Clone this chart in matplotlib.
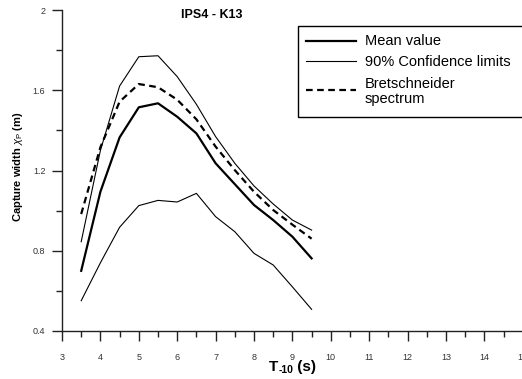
import matplotlib
matplotlib.use("Agg")
import matplotlib.pyplot as plt
from matplotlib.ticker import MultipleLocator
from matplotlib.lines import Line2D
from matplotlib.patches import Rectangle

plt.rcParams['font.family'] = ['Liberation Sans', 'DejaVu Sans']
plt.rcParams['mathtext.fontset'] = 'custom'
plt.rcParams['mathtext.rm'] = 'Liberation Sans'
plt.rcParams['mathtext.it'] = 'Liberation Sans:italic'
plt.rcParams['mathtext.bf'] = 'Liberation Sans:bold'

# Data
period = [3.5, 4.0, 4.5, 5.0, 5.5, 6.0, 6.5, 7.0, 7.5, 8.0, 8.5, 9.0, 9.5]
mean_value = [0.70, 1.094, 1.365, 1.515, 1.535, 1.468, 1.385, 1.236, 1.132, 1.028, 0.953, 0.870, 0.762]
upper_conf = [0.845, 1.30, 1.621, 1.767, 1.772, 1.668, 1.530, 1.369, 1.236, 1.123, 1.033, 0.953, 0.903]
lower_conf = [0.551, 0.740, 0.917, 1.025, 1.051, 1.043, 1.086, 0.970, 0.895, 0.787, 0.729, 0.620, 0.508]
bretschneider = [0.983, 1.316, 1.543, 1.631, 1.615, 1.553, 1.455, 1.319, 1.202, 1.094, 1.003, 0.930, 0.860]
legend_labels = ['Mean value', '90% Confidence limits', 'Bretschneider\nspectrum']
x_ticks = list(range(3, 16))
y_ticks = [0.4, 0.8, 1.2, 1.6, 2.0]
y_tick_labels = ['0.4', '0.8', '1.2', '1.6', '2']

W, H = 522, 379
fig = plt.figure(figsize=(W / 100, H / 100), dpi=100)
left_px, right_px, top_px, bot_px = 62, 522.8, 10, 331
ax = fig.add_axes([left_px / W, 1 - bot_px / H, (right_px - left_px) / W, (bot_px - top_px) / H])

mean_style = dict(color='black', lw=1.6)
conf_style = dict(color='black', lw=0.8)
bret_style = dict(color='black', lw=1.6, ls=(0, (3, 2)))

ax.plot(period, mean_value, **mean_style)
ax.plot(period, upper_conf, **conf_style)
ax.plot(period, lower_conf, **conf_style)
ax.plot(period, bretschneider, **bret_style)

ax.set_xlim(3, 15)
ax.set_ylim(0.4, 2.0)
ax.xaxis.set_minor_locator(MultipleLocator(0.5))
ax.yaxis.set_minor_locator(MultipleLocator(0.2))
ax.set_yticks(y_ticks)
ax.set_yticklabels(y_tick_labels)
ax.set_xticks(x_ticks)
ax.set_xticklabels([str(v) for v in x_ticks])

for s in ['top', 'right']:
    ax.spines[s].set_visible(False)
for s in ['left', 'bottom']:
    ax.spines[s].set_linewidth(1.0)
    ax.spines[s].set_color('#222222')

ax.tick_params(axis='both', which='major', length=7, width=1.0, color='#222222',
               labelsize=6.5, labelcolor='#333333')
ax.tick_params(axis='both', which='minor', length=4, width=1.0, color='#222222')
ax.tick_params(axis='x', which='major', pad=8.5)
ax.tick_params(axis='y', which='major', pad=5)

def fx(px):
    return px / W

def fy(py):
    return 1 - py / H

fig.text(fx(18), fy(167), r'Capture width $\chi_\mathrm{P}$ (m)', rotation=90,
         ha='center', va='center', fontsize=8, fontweight='bold')
fig.text(fx(212), fy(15), 'IPS4 - K13', ha='center', va='center',
         fontsize=9, fontweight='bold')

# x-label "T-10 (s)" with subscript, built from pieces
fig.canvas.draw()
r = fig.canvas.get_renderer()
t1 = fig.text(0, fy(367), 'T', ha='left', va='center', fontsize=11, fontweight='bold')
t2 = fig.text(0, fy(370), '-10', ha='left', va='center', fontsize=7.5, fontweight='bold')
t3 = fig.text(0, fy(367), ' (s)', ha='left', va='center', fontsize=11, fontweight='bold')
w1 = t1.get_window_extent(r).width
w2 = t2.get_window_extent(r).width
w3 = t3.get_window_extent(r).width
total = w1 + w2 + w3
x0 = 292.5 - total / 2
t1.set_x(fx(x0))
t2.set_x(fx(x0 + w1))
t3.set_x(fx(x0 + w1 + w2))

# legend box drawn at figure level
fig.patches.append(Rectangle((fx(298), fy(117)), fx(540) - fx(298), fy(26) - fy(117),
                             transform=fig.transFigure, fill=True, facecolor='white',
                             edgecolor='black', lw=1.0, zorder=5))
rows_line = [41, 61, 90]
styles = [mean_style, conf_style, bret_style]
for yl, st in zip(rows_line, styles):
    fig.add_artist(Line2D([fx(306), fx(356)], [fy(yl), fy(yl)], transform=fig.transFigure,
                          zorder=6, **st))
text_rows = [41, 62, 91.5]
for yt_, lab in zip(text_rows, legend_labels):
    fig.text(fx(365), fy(yt_), lab, ha='left', va='center', fontsize=10.5,
             linespacing=1.15, zorder=6)

fig.savefig('out.png', dpi=100)
